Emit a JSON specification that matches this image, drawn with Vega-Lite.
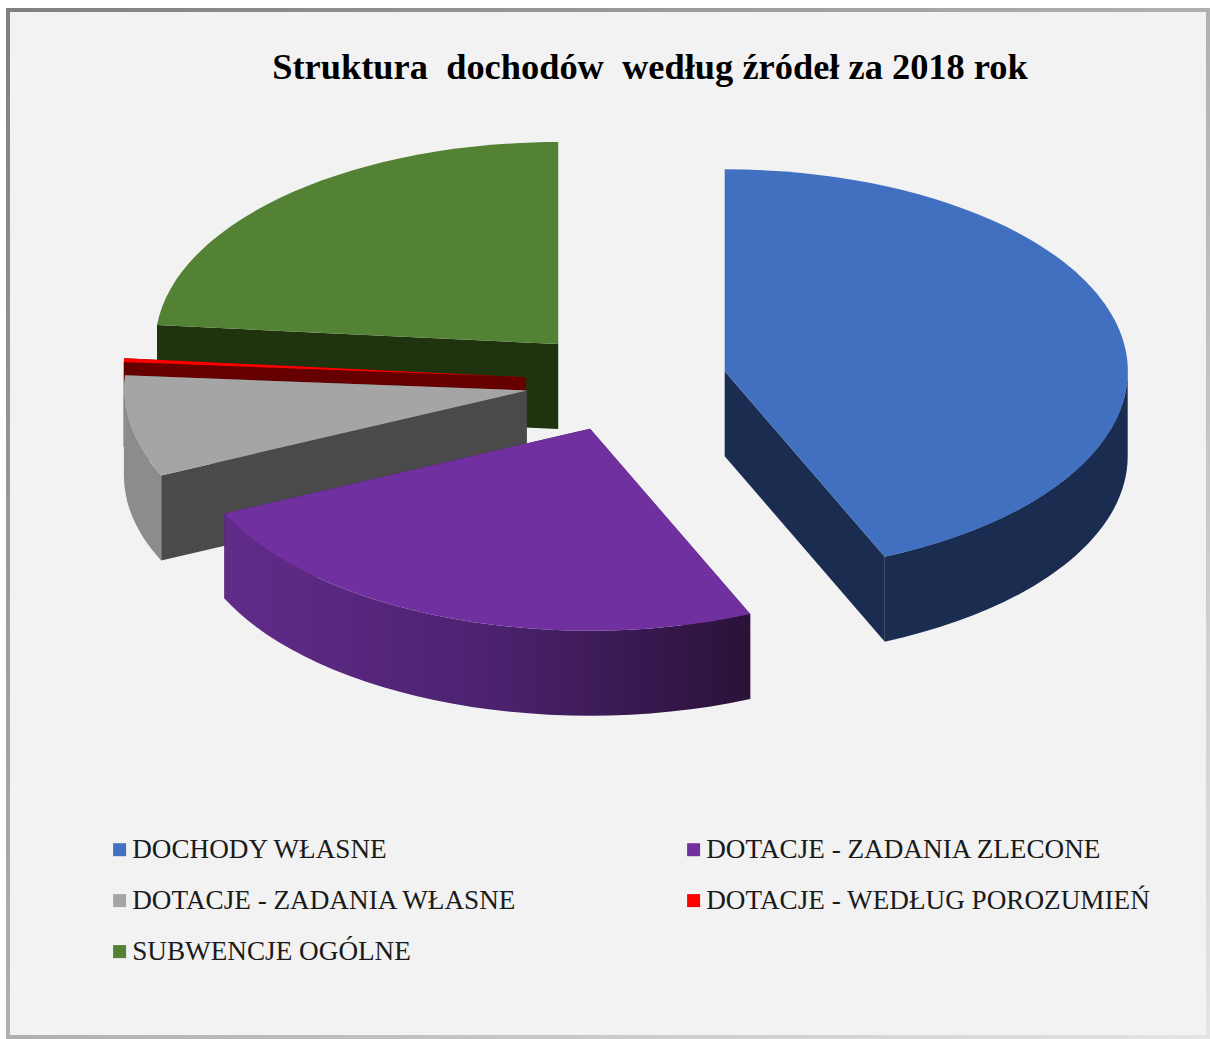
{
"$schema":"https://vega.github.io/schema/vega-lite/v6.json",
"autosize":"none",
"padding":{"left":8,"top":10,"right":2,"bottom":2},
"width":1200,"height":1027,
"background":"#ffffff",
"view":{"fill":"#f2f2f2","stroke":{"gradient":"linear","x1":0,"y1":0,"x2":1,"y2":1,"stops":[{"offset":0,"color":"#808080"},{"offset":0.5,"color":"#b0b0b0"},{"offset":1,"color":"#e4e4e4"}]},"strokeWidth":4},
"title":{"text":"Struktura\u00a0 dochodów\u00a0 według źródeł za 2018 rok","anchor":"middle","frame":"group","font":"Liberation Serif","fontSize":36.4,"fontWeight":"bold","color":"#000000","baseline":"alphabetic","offset":0,"dx":42,"dy":105},
"data":{"values":[
{"name":"DOCHODY WŁASNE","value":43.5},
{"name":"DOTACJE - ZADANIA ZLECONE","value":24.6},
{"name":"DOTACJE - ZADANIA WŁASNE","value":8.1},
{"name":"DOTACJE - WEDŁUG POROZUMIEŃ","value":0.3},
{"name":"SUBWENCJE OGÓLNE","value":23.5}
]},
"transform":[
{"window":[{"op":"sum","field":"value","as":"end"}],"frame":[null,0],"ignorePeers":true},
{"calculate":"(datum.end-datum.value)*PI/50","as":"t1"},
{"calculate":"datum.end*PI/50","as":"t2"},
{"calculate":"(datum.t1+datum.t2)/2","as":"tm"},
{"calculate":"clamp(datum.t1,PI/2,3*PI/2)","as":"f1"},
{"calculate":"clamp(datum.t2,PI/2,3*PI/2)","as":"f2"},
{"calculate":"round(403*0.25*sin(datum.tm)*10)/10","as":"cx"},
{"calculate":"round(-202*0.25*cos(datum.tm)*10)/10","as":"cy"},
{"calculate":"round((datum.cx+403*sin(datum.t1))*10)/10","as":"x1"},
{"calculate":"round((datum.cy-202*cos(datum.t1))*10)/10","as":"y1"},
{"calculate":"round((datum.cx+403*sin(datum.t2))*10)/10","as":"x2"},
{"calculate":"round((datum.cy-202*cos(datum.t2))*10)/10","as":"y2"},
{"calculate":"round((datum.cx+403*sin(datum.f1))*10)/10","as":"u1"},
{"calculate":"round((datum.cy-202*cos(datum.f1))*10)/10","as":"v1"},
{"calculate":"round((datum.cx+403*sin(datum.f2))*10)/10","as":"u2"},
{"calculate":"round((datum.cy-202*cos(datum.f2))*10)/10","as":"v2"},
{"calculate":"'M'+datum.cx+','+datum.cy+'L'+datum.x1+','+datum.y1+'A403,202,0,0,1,'+datum.x2+','+datum.y2+'Z'","as":"top"},
{"calculate":"'M'+datum.u1+','+datum.v1+'A403,202,0,0,1,'+datum.u2+','+datum.v2+'L'+datum.u2+','+(datum.v2+85)+'A403,202,0,0,0,'+datum.u1+','+(datum.v1+85)+'Z'","as":"rim"},
{"calculate":"'M'+datum.cx+','+datum.cy+'L'+datum.x1+','+datum.y1+'L'+datum.x1+','+(datum.y1+85)+'L'+datum.cx+','+(datum.cy+85)+'Z'+'M'+datum.cx+','+datum.cy+'L'+datum.x2+','+datum.y2+'L'+datum.x2+','+(datum.y2+85)+'L'+datum.cx+','+(datum.cy+85)+'Z'","as":"edges"}
],
"layer":[
{"mark":{"type":"point","filled":true,"opacity":1,"size":4,"xOffset":18,"yOffset":-142},
 "encoding":{
  "shape":{"field":"edges","type":"nominal","scale":null,"legend":null},
  "order":{"field":"end","type":"quantitative","sort":"descending"},
  "fill":{"field":"name","type":"nominal","legend":null,"scale":{"domain":["SUBWENCJE OGÓLNE","DOTACJE - WEDŁUG POROZUMIEŃ","DOTACJE - ZADANIA WŁASNE","DOTACJE - ZADANIA ZLECONE","DOCHODY WŁASNE"],"range":["#20330f","#660000","#4a4a4a","#3f1c5c","#1a2d50"]}}
 }},
{"transform":[{"filter":"datum.name=='DOCHODY WŁASNE'"}],
 "mark":{"type":"point","filled":true,"opacity":1,"size":4,"xOffset":18,"yOffset":-142,"fill":"#1a2d50"},
 "encoding":{"shape":{"field":"rim","type":"nominal","scale":null,"legend":null}}},
{"transform":[{"filter":"datum.name=='DOTACJE - ZADANIA WŁASNE'"}],
 "mark":{"type":"point","filled":true,"opacity":1,"size":4,"xOffset":18,"yOffset":-142,"fill":"#8c8c8c"},
 "encoding":{"shape":{"field":"rim","type":"nominal","scale":null,"legend":null}}},
{"transform":[{"filter":"datum.name=='DOTACJE - ZADANIA ZLECONE'"}],
 "mark":{"type":"point","filled":true,"opacity":1,"size":4,"xOffset":18,"yOffset":-142,"fill":{"gradient":"linear","x1":0,"y1":0,"x2":1,"y2":0,"stops":[{"offset":0,"color":"#622b8a"},{"offset":0.5,"color":"#4c2270"},{"offset":1,"color":"#2a1238"}]}},
 "encoding":{"shape":{"field":"rim","type":"nominal","scale":null,"legend":null}}},
{"mark":{"type":"point","filled":true,"opacity":1,"size":4,"xOffset":18,"yOffset":-142},
 "encoding":{
  "shape":{"field":"top","type":"nominal","scale":null,"legend":null},
  "order":{"field":"end","type":"quantitative","sort":"descending"},
  "color":{"field":"name","type":"nominal",
   "scale":{"domain":["DOCHODY WŁASNE","DOTACJE - ZADANIA ZLECONE","DOTACJE - ZADANIA WŁASNE","DOTACJE - WEDŁUG POROZUMIEŃ","SUBWENCJE OGÓLNE"],"range":["#4270c0","#7030a0","#a5a5a5","#ff0000","#548235"]},
   "legend":{"title":null,"orient":"none","direction":"horizontal","legendX":98,"legendY":826,"columns":2,"columnPadding":103,"rowPadding":23,"symbolType":"square","symbolSize":169,"symbolStrokeWidth":0,"symbolOpacity":1,"labelFont":"Liberation Serif","labelFontSize":27.2,"labelColor":"#1a1a1a","labelOffset":-1,"labelLimit":600,"gridAlign":"all"}}
 }}
]
}
